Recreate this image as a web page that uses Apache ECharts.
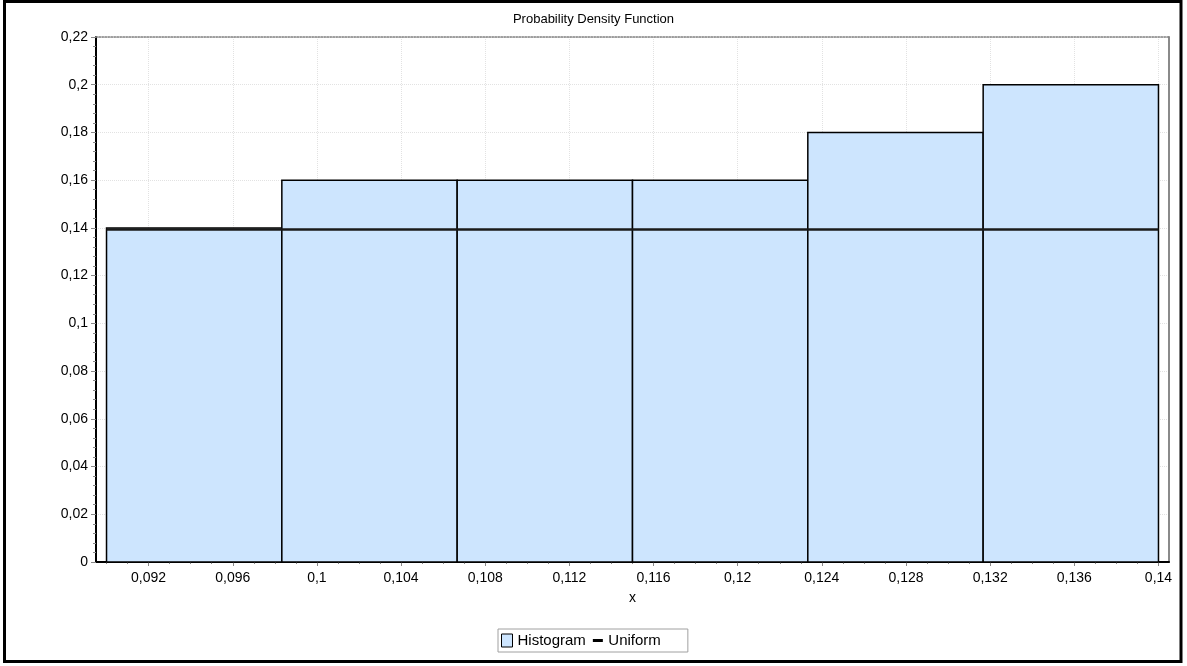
<!DOCTYPE html>
<html>
<head>
<meta charset="utf-8">
<title>Probability Density Function</title>
<script src="https://cdn.jsdelivr.net/npm/echarts@6/dist/echarts.min.js"></script>
<style>
  html, body { margin: 0; padding: 0; background: #fff; }
  #chart { width: 1187px; height: 666px; }
</style>
</head>
<body>
<div id="chart"></div>
<script>
// Histogram bins: edges and relative-frequency heights
const binEdges = [0.09, 0.098333, 0.106667, 0.115, 0.123333, 0.131667, 0.14];
const binDensity = [0.14, 0.16, 0.16, 0.16, 0.18, 0.2];

// Fitted uniform density over the data range
const uniformRange = [0.09, 0.14];
const uniformDensity = 0.1393;

// Axis ticks
const xTickValues = [0.092, 0.096, 0.1, 0.104, 0.108, 0.112, 0.116, 0.12, 0.124, 0.128, 0.132, 0.136, 0.14];
const xRange = [0.0895, 0.1405];
const yRange = [0, 0.22];
const yInterval = 0.02;

const FONT = "'Liberation Sans', Arial, sans-serif";
const BAR_FILL = '#cde5fe';

// minor x ticks every quarter of a major step
const xMinorTicks = [];
for (let i = 0; i < xTickValues.length; i++) {
  const step = 0.004 / 4;
  for (let k = -3; k <= 0; k++) {
    const v = +(xTickValues[i] + k * step).toFixed(4);
    if (v >= xRange[0] && v <= xRange[1]) xMinorTicks.push(v);
  }
}

const histData = binDensity.map((d, i) => [binEdges[i], binEdges[i + 1], d]);
const uniformData = [[uniformRange[0], uniformDensity], [uniformRange[1], uniformDensity]];

const fmt = v => String(+(+v).toFixed(4)).replace('.', ',');

// short horizontal dash centred in the legend icon box
const DASH_ICON = 'path://M0,0 M0,5 L10,5 L10,8 L0,8 Z M10,13';

const chart = echarts.init(document.getElementById('chart'), null, { renderer: 'canvas' });

chart.setOption({
  animation: false,
  backgroundColor: '#fff',
  textStyle: { fontFamily: FONT },
  title: {
    text: 'Probability Density Function',
    left: 'center',
    top: 13,
    padding: 0,
    textStyle: { fontFamily: FONT, fontSize: 13, fontWeight: 'normal', color: '#000' }
  },
  legend: {
    left: 498,
    top: 629,
    padding: [4, 27, 4, 3],
    borderColor: '#a0a0a0',
    borderWidth: 1,
    backgroundColor: '#fff',
    itemWidth: 11,
    itemHeight: 13,
    itemGap: 7,
    textStyle: { fontFamily: FONT, fontSize: 15, color: '#000' },
    data: [
      { name: 'Histogram', icon: 'rect', itemStyle: { color: BAR_FILL, borderColor: '#000', borderWidth: 1 } },
      { name: 'Uniform', icon: DASH_ICON, itemStyle: { color: '#000', borderWidth: 0 } }
    ]
  },
  grid: { left: 96, right: 18, top: 37, bottom: 104, show: false },
  xAxis: [
    {
      type: 'value',
      min: xRange[0],
      max: xRange[1],
      position: 'bottom',
      name: 'x',
      nameLocation: 'middle',
      nameGap: 29,
      nameTextStyle: { fontFamily: FONT, fontSize: 14, color: '#000' },
      axisLine: { show: true, onZero: false, lineStyle: { color: '#000', width: 2 } },
      axisTick: { show: true, customValues: xTickValues, length: 4, lineStyle: { color: '#888' } },
      axisLabel: { customValues: xTickValues, formatter: fmt, margin: 9, fontSize: 14, color: '#000', fontFamily: FONT },
      splitLine: { show: true, lineStyle: { color: '#e2e2e2', type: 'dotted', width: 1 } }
    },
    {
      type: 'value',
      min: xRange[0],
      max: xRange[1],
      position: 'bottom',
      axisLine: { show: false, onZero: false },
      axisTick: { show: true, customValues: xMinorTicks, length: 2, lineStyle: { color: '#888' } },
      axisLabel: { show: false },
      splitLine: { show: false }
    },
    {
      type: 'value',
      min: xRange[0],
      max: xRange[1],
      position: 'top',
      axisLine: { show: true, onZero: false, lineStyle: { color: '#808080', type: 'dotted', width: 1.5 } },
      axisTick: { show: false },
      axisLabel: { show: false },
      splitLine: { show: false }
    }
  ],
  yAxis: [
    {
      type: 'value',
      min: yRange[0],
      max: yRange[1],
      interval: yInterval,
      axisLine: { show: true, onZero: false, lineStyle: { color: '#000', width: 2 } },
      axisTick: { show: true, length: 5, lineStyle: { color: '#888' } },
      minorTick: { show: true, splitNumber: 5, length: 3, lineStyle: { color: '#888' } },
      axisLabel: { formatter: fmt, margin: 8, fontSize: 14, color: '#000', fontFamily: FONT },
      splitLine: { show: true, lineStyle: { color: '#e2e2e2', type: 'dotted', width: 1 } }
    },
    {
      type: 'value',
      position: 'right',
      min: yRange[0],
      max: yRange[1],
      axisLine: { show: true, onZero: false, lineStyle: { color: '#8a8a8a', width: 2 } },
      axisTick: { show: false },
      axisLabel: { show: false },
      splitLine: { show: false }
    }
  ],
  series: [
    {
      name: 'Histogram',
      type: 'custom',
      xAxisIndex: 0,
      yAxisIndex: 0,
      encode: { x: [0, 1], y: 2 },
      itemStyle: { color: BAR_FILL, borderColor: '#000' },
      renderItem: function (params, api) {
        const top = api.coord([api.value(0), api.value(2)]);
        const bottom = api.coord([api.value(1), 0]);
        return {
          type: 'rect',
          shape: { x: top[0], y: top[1], width: bottom[0] - top[0], height: bottom[1] - top[1] },
          style: { fill: BAR_FILL, stroke: '#000', lineWidth: 1.5 }
        };
      },
      data: histData,
      z: 2
    },
    {
      name: 'Uniform',
      type: 'line',
      xAxisIndex: 0,
      yAxisIndex: 0,
      symbol: 'none',
      lineStyle: { color: '#1a1a1a', width: 2.5 },
      itemStyle: { color: '#1a1a1a' },
      data: uniformData,
      z: 3
    }
  ],
  graphic: [
    {
      type: 'rect',
      shape: { x: 4.5, y: 1.5, width: 1176.5, height: 660 },
      style: { fill: 'none', stroke: '#000', lineWidth: 3 },
      silent: true,
      z: 100
    }
  ]
});
</script>
</body>
</html>
